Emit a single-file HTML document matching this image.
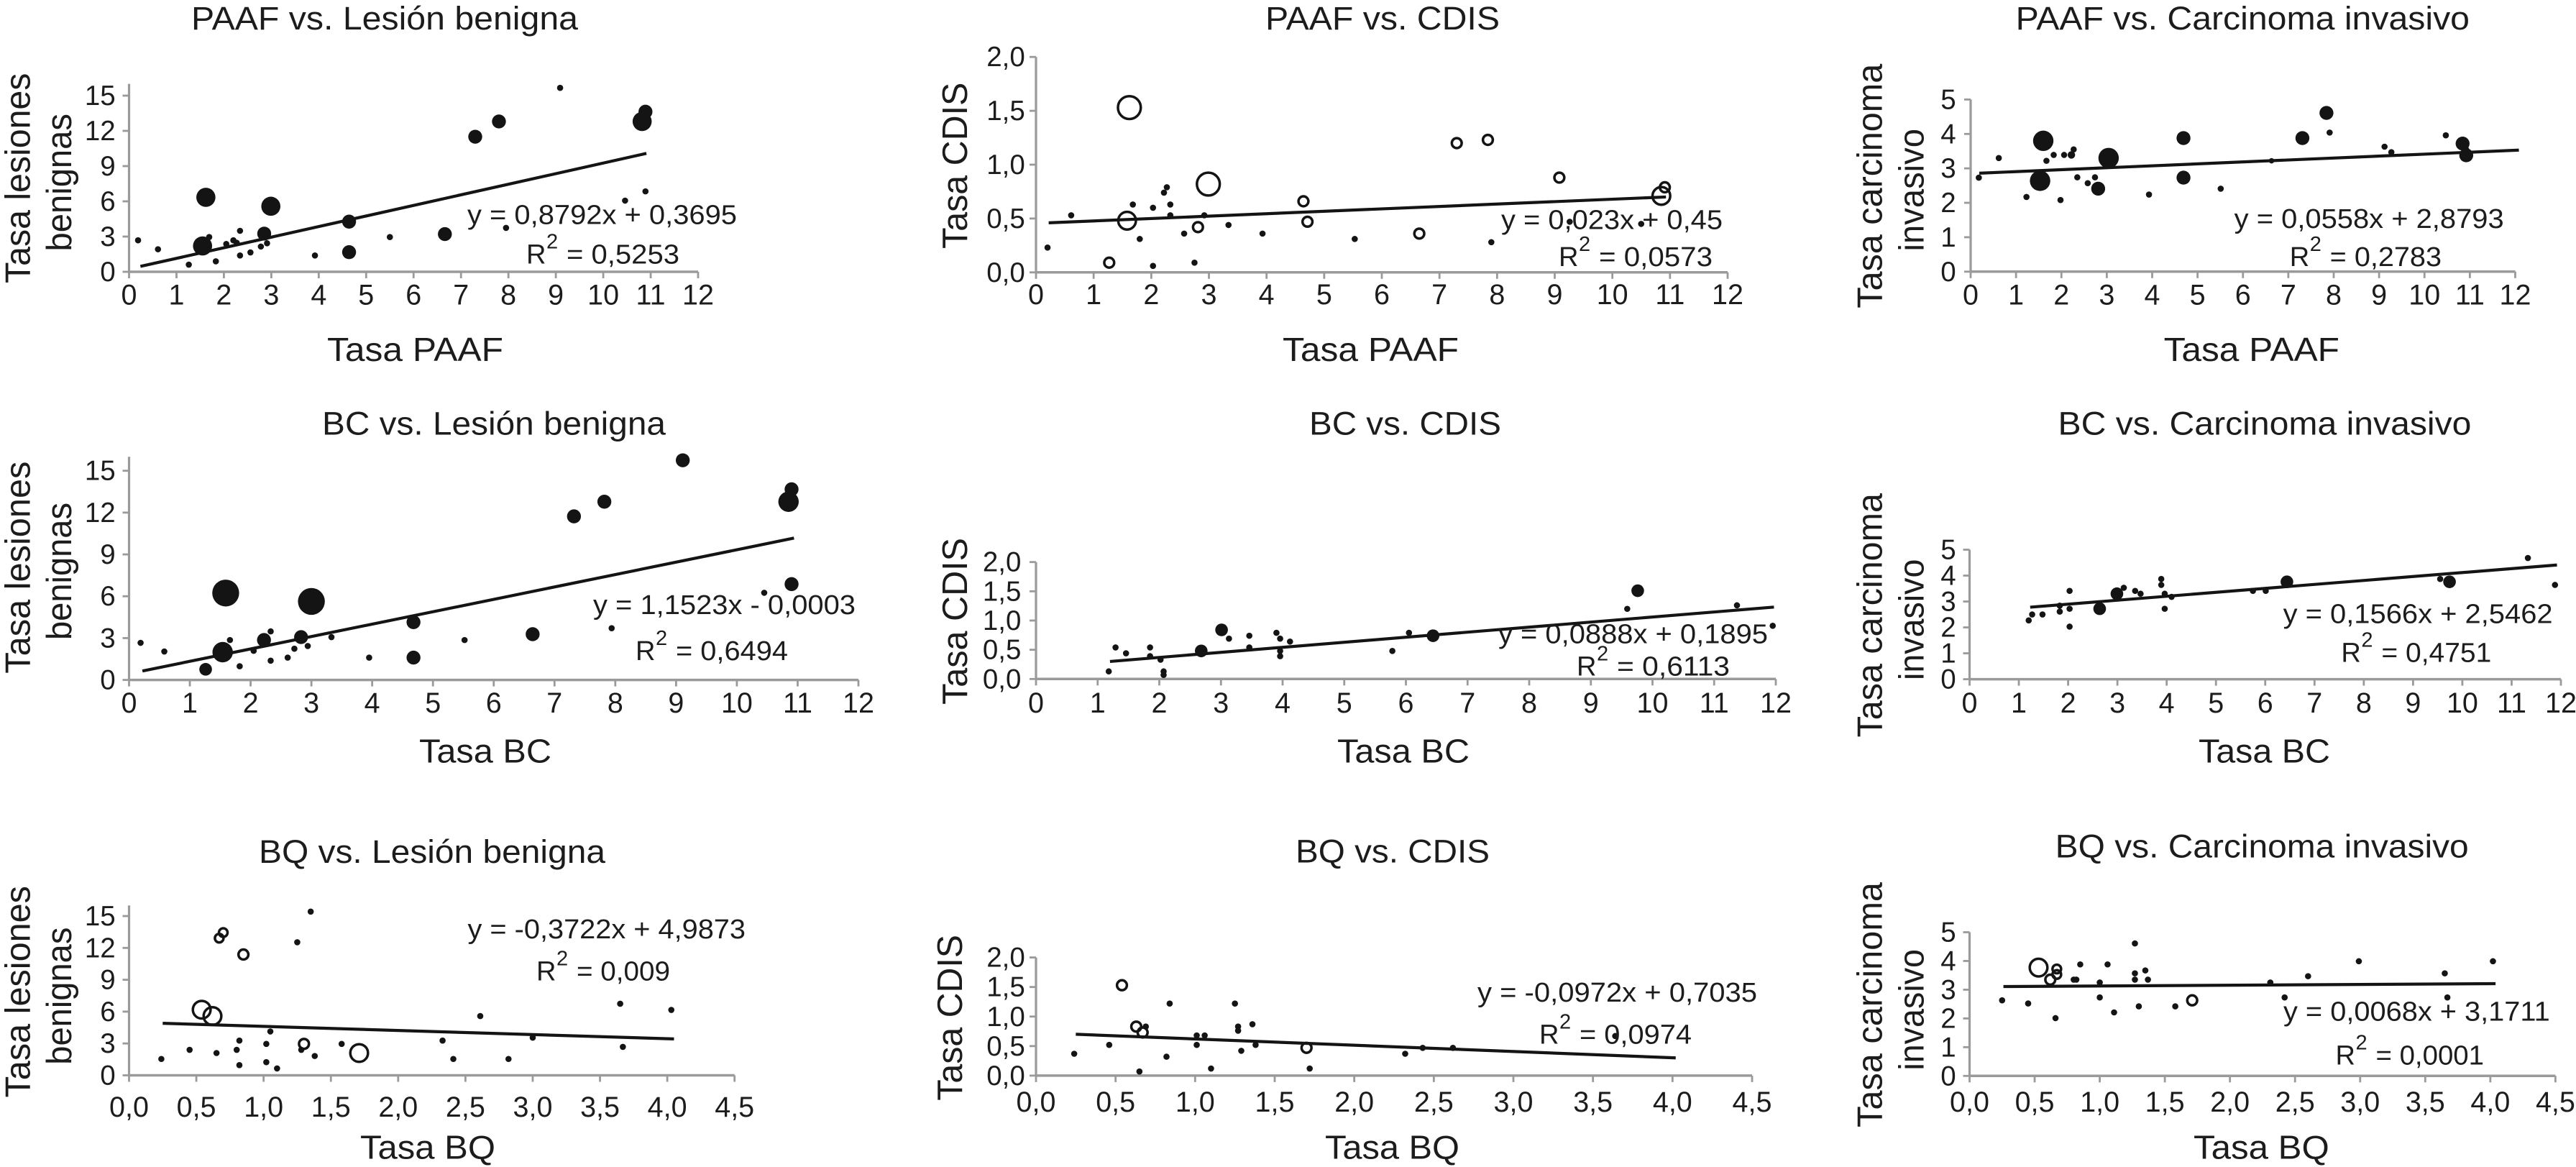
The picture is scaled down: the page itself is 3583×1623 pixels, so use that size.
<!DOCTYPE html>
<html lang="es">
<head>
<meta charset="utf-8">
<title>Tasas PAAF, BC y BQ frente a lesión benigna, CDIS y carcinoma invasivo</title>
<style>
html,body{margin:0;padding:0;background:#fff;}
svg{display:block;}
text{font-family:"Liberation Sans",Arial,sans-serif;fill:#1c1c1c;}
</style>
</head>
<body>
<svg id="figure" xmlns="http://www.w3.org/2000/svg" width="3583" height="1623" viewBox="0 0 3583 1623"></svg>
<script>
// ---- tick labels ----
const ticksRate12 = ["0","1","2","3","4","5","6","7","8","9","10","11","12"];
const ticksRateBQ = ["0,0","0,5","1,0","1,5","2,0","2,5","3,0","3,5","4,0","4,5"];
const ticksBenign = ["0","3","6","9","12","15"];
const ticksCdis = ["0,0","0,5","1,0","1,5","2,0"];
const ticksInvasive = ["0","1","2","3","4","5"];

// ---- PAAF vs. Lesion benigna ----
const paafBenignX = [0.19,0.61,1.26,1.55,1.69,1.62,1.83,2.05,2.2,2.27,2.34,2.34,2.56,2.78,2.91,2.85,2.99,3.92,4.64,4.64,5.5,6.66,7.3,7.8,7.95,9.09,10.46,10.89,10.89,10.82];
const paafBenignY = [2.68,1.92,0.61,2.2,2.96,6.34,0.89,2.37,2.68,2.47,3.49,1.39,1.65,2.15,2.43,3.25,5.58,1.39,4.27,1.67,2.96,3.21,11.5,12.8,3.74,15.66,6.06,6.85,13.63,12.8];
const paafBenignW = [1,1,1,6,1,6,1,1,1,1,1,1,1,1,1,4,6,1,4,4,1,4,4,4,1,1,1,1,4,6];
const paafBenignTrendX = [0.24,10.91];
const paafBenignTrendY = [0.46,10.08];

// ---- PAAF vs. CDIS ----
const paafCdisX = [0.2,0.61,1.27,1.62,1.58,1.68,1.8,2.03,2.03,2.22,2.27,2.33,2.33,2.57,2.75,2.81,2.92,2.99,3.34,3.93,4.64,4.71,5.53,6.65,7.3,7.84,7.9,9.08,9.26,10.5,10.91,10.85];
const paafCdisY = [0.23,0.53,0.09,1.53,0.48,0.63,0.31,0.6,0.06,0.74,0.79,0.63,0.53,0.36,0.09,0.42,0.53,0.82,0.44,0.36,0.66,0.47,0.31,0.36,1.2,1.23,0.28,0.88,0.47,0.45,0.79,0.71];
const paafCdisW = [1,1,3,8,6,1,1,1,1,1,1,1,1,1,1,3,1,8,1,1,3,3,1,3,3,3,1,3,1,1,3,6];
const paafCdisTrendX = [0.22,10.93];
const paafCdisTrendY = [0.46,0.7];

// ---- PAAF vs. Carcinoma invasivo ----
const paafInvasiveX = [0.18,0.62,1.23,1.53,1.6,1.67,1.83,1.98,2.06,2.22,2.27,2.35,2.58,2.74,2.81,3.04,3.93,4.69,4.69,5.51,6.63,7.31,7.84,7.91,9.12,9.27,10.47,10.84,10.92,10.92];
const paafInvasiveY = [2.73,3.3,2.17,2.64,3.8,3.22,3.39,2.08,3.39,3.39,3.55,2.74,2.57,2.74,2.41,3.3,2.24,3.88,2.73,2.41,3.22,3.88,4.61,4.04,3.63,3.47,3.96,3.72,3.38,3.54];
const paafInvasiveW = [1,1,1,6.5,6.5,1,1,1,1,1.5,1,1,1,1,4,6.5,1,4,4,1,0.7,4,4,1,1,1,1,4,4,1];
const paafInvasiveTrendX = [0.19,12.08];
const paafInvasiveTrendY = [2.86,3.53];

// ---- BC vs. Lesion benigna ----
const bcBenignX = [0.19,0.58,1.26,1.54,1.59,1.66,1.82,2.05,2.22,2.33,2.33,2.61,2.72,2.83,2.94,3.0,3.33,3.95,4.68,4.68,5.52,6.64,7.32,7.82,7.94,9.11,10.45,10.9,10.9,10.85];
const bcBenignY = [2.66,2.04,0.76,1.99,6.23,2.86,0.98,2.09,2.86,3.48,1.38,1.6,2.24,3.07,2.43,5.63,3.07,1.6,4.14,1.6,2.86,3.28,11.73,12.78,3.71,15.75,6.25,6.87,13.67,12.78];
const bcBenignW = [1,1,3.5,6.5,9,1,1,1,4,1,1,1,1,4,1,9,1,1,4,4,1,4,4,4,1,4,1,4,4,6.5];
const bcBenignTrendX = [0.22,10.94];
const bcBenignTrendY = [0.64,10.17];

// ---- BC vs. CDIS ----
const bcCdisX = [1.18,1.29,1.46,1.85,1.85,2.02,2.07,2.07,2.68,3.01,3.13,3.46,3.46,3.9,3.96,3.96,3.96,4.12,5.78,6.05,6.44,9.59,9.76,11.37,11.95];
const bcCdisY = [0.13,0.54,0.44,0.54,0.39,0.33,0.13,0.07,0.48,0.84,0.69,0.74,0.54,0.79,0.69,0.48,0.39,0.64,0.48,0.79,0.74,1.2,1.51,1.26,0.91];
const bcCdisW = [1,1,1,1,1,1,1,1,3.5,3.5,1,1,1,1,1,1,1,1,1,1,3.5,1,3.5,1,1];
const bcCdisTrendX = [1.2,11.97];
const bcCdisTrendY = [0.3,1.23];

// ---- BC vs. Carcinoma invasivo ----
const bcInvasiveX = [1.2,1.27,1.48,1.83,1.83,2.03,2.03,2.03,2.64,2.99,3.13,3.36,3.47,3.89,3.89,3.96,3.96,4.1,5.75,6.01,6.44,9.55,9.74,11.33,11.88];
const bcInvasiveY = [2.27,2.5,2.5,2.61,2.84,2.72,3.41,2.03,2.72,3.3,3.53,3.41,3.3,3.87,3.64,3.3,2.72,3.18,3.41,3.41,3.76,3.87,3.76,4.68,3.64];
const bcInvasiveW = [1,1,1,1,1,1,1,1,3.5,3.5,1,1,1,1,1,1,1,1,1,1,3.5,1,3.5,1,1];
const bcInvasiveTrendX = [1.23,11.92];
const bcInvasiveTrendY = [2.78,4.41];

// ---- BQ vs. Lesion benigna ----
const bqBenignX = [0.24,0.45,0.65,0.8,0.82,0.82,1.02,1.02,1.05,1.1,1.28,1.3,1.38,1.35,1.25,1.58,1.71,0.54,0.62,0.7,0.67,0.85,2.33,2.41,2.61,2.82,3.0,3.65,3.67,4.03];
const bqBenignY = [1.54,2.4,2.1,2.4,3.27,0.96,2.96,1.24,4.13,0.65,2.4,2.96,1.82,15.42,12.53,2.96,2.1,6.18,5.58,13.44,12.92,11.38,3.27,1.54,5.58,1.54,3.55,6.74,2.68,6.16];
const bqBenignW = [1,1,1,1,1,1,1,1,1,1,1,3,1,1,1,1,6,6,6,2.5,2.5,3,1,1,1,1,1,1,1,1];
const bqBenignTrendX = [0.25,4.05];
const bqBenignTrendY = [4.9,3.43];

// ---- BQ vs. CDIS ----
const bqCdisX = [0.24,0.46,0.54,0.63,0.67,0.69,0.65,0.82,0.84,1.01,1.01,1.06,1.1,1.25,1.27,1.27,1.29,1.36,1.38,1.7,1.72,2.32,2.43,2.62,3.64];
const bqCdisY = [0.37,0.52,1.53,0.83,0.73,0.83,0.07,0.32,1.22,0.68,0.52,0.68,0.12,1.22,0.83,0.76,0.42,0.87,0.52,0.47,0.12,0.37,0.47,0.47,0.67];
const bqCdisW = [1,1,3,3,3,1,1,1,1,1,1,1,1,1,1,1,1,1,1,3,1,1,1,1,1];
const bqCdisTrendX = [0.25,4.02];
const bqCdisTrendY = [0.7,0.3];

// ---- BQ vs. Carcinoma invasivo ----
const bqInvasiveX = [0.25,0.45,0.53,0.62,0.67,0.67,0.66,0.8,0.82,0.85,1.0,1.0,1.06,1.11,1.27,1.27,1.27,1.3,1.35,1.37,1.58,1.71,2.31,2.42,2.6,2.99,3.65,3.67,4.02];
const bqInvasiveY = [2.63,2.52,3.77,3.35,3.72,3.53,2.01,3.35,3.35,3.88,3.25,2.73,3.88,2.21,4.61,3.57,3.35,2.42,3.67,3.35,2.42,2.63,3.25,2.73,3.47,3.99,3.57,2.73,3.99];
const bqInvasiveW = [1,1,6,3,2.5,2.5,1,1,1,1,1,1,1,1,1,1,1,1,1,1,1,3,1,1,1,1,1,1,1];
const bqInvasiveTrendX = [0.26,4.04];
const bqInvasiveTrendY = [3.11,3.21];

// ---- axis functions ----
function numeric(label){ return parseFloat(String(label).replace(',', '.')); }
function scaleX(p, v){ return p.x0 + (p.xAt - p.x0) * v / p.xRef; }
function scaleY(p, v){ return p.y0 + (p.yAt - p.y0) * v / p.yRef; }
function radius(w){ return 2.5 + 1.8 * w; }

// ---- panel layout ----
const panels = [
 {id:'paaf-benigna', title:'PAAF vs. Lesión benigna', t:[266,804,41], xLabel:'Tasa PAAF', xl:[455,700,502],
  yLines:[['Tasa lesiones',41.5,101.6,394],['benignas',99,158,349.5]],
  x0:179.5,xAt:971,xRef:12,y0:378,yAt:133,yRef:15,yTop:16,yTickRight:160.7,xTickBase:423.5,
  xs:paafBenignX,ys:paafBenignY,ws:paafBenignW,tx:paafBenignTrendX,ty:paafBenignTrendY,hollow:false,
  xTicks:ticksRate12,yTicks:ticksBenign,
  eq:'y = 0,8792x + 0,3695',e:[650,1025,311.6],r2:'= 0,5253',r:[732,945,366.7]},
 {id:'paaf-cdis', title:'PAAF vs. CDIS', t:[1760,2086,41], xLabel:'Tasa PAAF', xl:[1784,2029,502],
  yLines:[['Tasa CDIS',1345,114.7,346]],
  x0:1441,xAt:2403,xRef:12,y0:378.8,yAt:79.2,yRef:2,yTop:2,yTickRight:1425.8,xTickBase:423,
  xs:paafCdisX,ys:paafCdisY,ws:paafCdisW,tx:paafCdisTrendX,ty:paafCdisTrendY,hollow:true,
  xTicks:ticksRate12,yTicks:ticksCdis,
  eq:'y = 0,023x + 0,45',e:[2088,2396,318.5],r2:'= 0,0573',r:[2168,2382,370]},
 {id:'paaf-invasivo', title:'PAAF vs. Carcinoma invasivo', t:[2803.7,3435,41], xLabel:'Tasa PAAF', xl:[3009.6,3254,502],
  yLines:[['Tasa carcinoma',2617.3,88.8,428.7],['invasivo',2675.4,179,349.5]],
  x0:2741,xAt:3498.5,xRef:12,y0:377.8,yAt:138.4,yRef:5,yTop:5,yTickRight:2720.7,xTickBase:423.5,
  xs:paafInvasiveX,ys:paafInvasiveY,ws:paafInvasiveW,tx:paafInvasiveTrendX,ty:paafInvasiveTrendY,hollow:false,
  xTicks:ticksRate12,yTicks:ticksInvasive,
  eq:'y = 0,0558x + 2,8793',e:[3107.7,3482.7,316.8],r2:'= 0,2783',r:[3184.7,3396,370]},
 {id:'bc-benigna', title:'BC vs. Lesión benigna', t:[448,926,604.7], xLabel:'Tasa BC', xl:[583,767,1060.7],
  yLines:[['Tasa lesiones',41.5,641.6,936.7],['benignas',99,699,890]],
  x0:179.5,xAt:1194,xRef:12,y0:945.6,yAt:654.7,yRef:15,yTop:16,yTickRight:160.7,xTickBase:991,
  xs:bcBenignX,ys:bcBenignY,ws:bcBenignW,tx:bcBenignTrendX,ty:bcBenignTrendY,hollow:false,
  xTicks:ticksRate12,yTicks:ticksBenign,
  eq:'y = 1,1523x - 0,0003',e:[825,1190,854],r2:'= 0,6494',r:[884,1096,917.8]},
 {id:'bc-cdis', title:'BC vs. CDIS', t:[1821,2088,604.7], xLabel:'Tasa BC', xl:[1860,2044,1060.7],
  yLines:[['Tasa CDIS',1345,748,980]],
  x0:1441,xAt:2470,xRef:12,y0:944.3,yAt:781.7,yRef:2,yTop:2,yTickRight:1420.4,xTickBase:991,
  xs:bcCdisX,ys:bcCdisY,ws:bcCdisW,tx:bcCdisTrendX,ty:bcCdisTrendY,hollow:false,
  xTicks:ticksRate12,yTicks:ticksCdis,
  eq:'y = 0,0888x + 0,1895',e:[2084,2459,894.7],r2:'= 0,6113',r:[2193,2406,939.4]},
 {id:'bc-invasivo', title:'BC vs. Carcinoma invasivo', t:[2862.5,3437.4,604.7], xLabel:'Tasa BC', xl:[3058,3241,1060.7],
  yLines:[['Tasa carcinoma',2617.3,686,1025.5],['invasivo',2675.4,777.6,946]],
  x0:2739.5,xAt:3562,xRef:12,y0:944.6,yAt:764.5,yRef:5,yTop:5,yTickRight:2720.7,xTickBase:991,
  xs:bcInvasiveX,ys:bcInvasiveY,ws:bcInvasiveW,tx:bcInvasiveTrendX,ty:bcInvasiveTrendY,hollow:false,
  xTicks:ticksRate12,yTicks:ticksInvasive,
  eq:'y = 0,1566x + 2,5462',e:[3175.6,3550.6,866.4],r2:'= 0,4751',r:[3256.4,3465.3,920.5]},
 {id:'bq-benigna', title:'BQ vs. Lesión benigna', t:[360,842,1200], xLabel:'Tasa BQ', xl:[501,689,1611.6],
  yLines:[['Tasa lesiones',41.5,1232,1526.5],['benignas',99,1289.6,1480.7]],
  x0:179.5,xAt:1021.7,xRef:4.5,y0:1495.5,yAt:1274,yRef:15,yTop:16,yTickRight:160.7,xTickBase:1553,
  xs:bqBenignX,ys:bqBenignY,ws:bqBenignW,tx:bqBenignTrendX,ty:bqBenignTrendY,hollow:true,
  xTicks:ticksRateBQ,yTicks:ticksBenign,
  eq:'y = -0,3722x + 4,9873',e:[650.5,1037,1305],r2:'= 0,009',r:[746,932,1363.6]},
 {id:'bq-cdis', title:'BQ vs. CDIS', t:[1802,2072,1199.4], xLabel:'Tasa BQ', xl:[1843,2030,1611.6],
  yLines:[['Tasa CDIS',1338,1300,1530.7]],
  x0:1441,xAt:2437,xRef:4.5,y0:1495.9,yAt:1331.6,yRef:2,yTop:2,yTickRight:1425.8,xTickBase:1546,
  xs:bqCdisX,ys:bqCdisY,ws:bqCdisW,tx:bqCdisTrendX,ty:bqCdisTrendY,hollow:true,
  xTicks:ticksRateBQ,yTicks:ticksCdis,
  eq:'y = -0,0972x + 0,7035',e:[2055,2444,1393],r2:'= 0,0974',r:[2141,2353,1451.5]},
 {id:'bq-invasivo', title:'BQ vs. Carcinoma invasivo', t:[2858.7,3433.7,1192.5], xLabel:'Tasa BQ', xl:[3051,3239.8,1611.6],
  yLines:[['Tasa carcinoma',2617.3,1227,1568],['invasivo',2675.4,1320,1488.6]],
  x0:2739.5,xAt:3554.4,xRef:4.5,y0:1496.3,yAt:1296.5,yRef:5,yTop:5,yTickRight:2720.7,xTickBase:1546,
  xs:bqInvasiveX,ys:bqInvasiveY,ws:bqInvasiveW,tx:bqInvasiveTrendX,ty:bqInvasiveTrendY,hollow:true,
  xTicks:ticksRateBQ,yTicks:ticksInvasive,
  eq:'y = 0,0068x + 3,1711',e:[3176,3546.7,1419.3],r2:'= 0,0001',r:[3248.5,3455,1480.3]}
];

const NS = 'http://www.w3.org/2000/svg';
const AXIS = '#9a9a9a';
const INK = '#141414';

function make(parent, tag, props, name){
  const el = document.createElementNS(NS, tag);
  for (const k in props) el.setAttribute(k, props[k]);
  
  
  parent.appendChild(el);
  return el;
}
function fitted(parent, str, x1, x2, base, size, name){
  const el = make(parent, 'text', {x:x1, y:base, 'font-size':size, textLength:x2-x1, lengthAdjust:'spacingAndGlyphs'}, name);
  el.textContent = str;
  return el;
}
function rotated(parent, str, baseX, yTop, yBottom, size, name){
  const el = make(parent, 'text', {x:0, y:0, 'font-size':size, textLength:yBottom-yTop, lengthAdjust:'spacingAndGlyphs',
    transform:'translate(' + baseX + ' ' + yBottom + ') rotate(-90)'}, name);
  el.textContent = str;
  return el;
}

const root = document.getElementById('figure');
panels.forEach(function(p){
  const g = make(root, 'g', {}, 'panel-' + p.id);

  fitted(g, p.title, p.t[0], p.t[1], p.t[2], 45, 'chart-title');
  fitted(g, p.xLabel, p.xl[0], p.xl[1], p.xl[2], 46, 'x-axis-title');
  p.yLines.forEach(function(line){
    rotated(g, line[0], line[1], line[2], line[3], 49, 'y-axis-title');
  });

  // axes
  make(g, 'line', {x1:p.x0, x2:scaleX(p, numeric(p.xTicks[p.xTicks.length-1])), y1:p.y0, y2:p.y0, stroke:AXIS, 'stroke-width':3.5}, 'x-axis');
  make(g, 'line', {x1:p.x0, x2:p.x0, y1:p.y0, y2:scaleY(p, p.yTop), stroke:AXIS, 'stroke-width':3.2}, 'y-axis');

  p.xTicks.forEach(function(lab){
    const x = scaleX(p, numeric(lab));
    make(g, 'line', {x1:x, x2:x, y1:p.y0, y2:p.y0 + 9, stroke:AXIS, 'stroke-width':2.8}, 'x-tick');
    const t = make(g, 'text', {x:x, y:p.xTickBase, 'font-size':39.5, 'text-anchor':'middle'}, 'x-tick-label');
    t.textContent = lab;
  });
  p.yTicks.forEach(function(lab){
    const y = scaleY(p, numeric(lab));
    make(g, 'line', {x1:p.x0 - 9, x2:p.x0, y1:y, y2:y, stroke:AXIS, 'stroke-width':2.8}, 'y-tick');
    const t = make(g, 'text', {x:p.yTickRight, y:y + 13, 'font-size':38.5, 'text-anchor':'end'}, 'y-tick-label');
    t.textContent = lab;
  });

  // points
  p.xs.forEach(function(v, i){
    const open = p.hollow && p.ws[i] >= 2;
    make(g, 'circle', {cx:scaleX(p, v), cy:scaleY(p, p.ys[i]), r:open ? radius(p.ws[i]) - 1 : radius(p.ws[i]),
      fill: open ? 'none' : INK, stroke: open ? INK : 'none', 'stroke-width': open ? 3.5 : 0}, 'data-point');
  });

  // trend line
  make(g, 'line', {x1:scaleX(p, p.tx[0]), y1:scaleY(p, p.ty[0]), x2:scaleX(p, p.tx[1]), y2:scaleY(p, p.ty[1]),
    stroke:INK, 'stroke-width':4.2}, 'trend-line');

  // equation and R squared
  fitted(g, p.eq, p.e[0], p.e[1], p.e[2], 38, 'trend-equation');
  const rx = p.r[0];
  const rb = p.r[2];
  const rLetter = make(g, 'text', {x:rx, y:rb, 'font-size':38}, 'r-squared-letter');
  rLetter.textContent = 'R';
  const rSup = make(g, 'text', {x:rx + 28, y:rb - 21, 'font-size':29}, 'r-squared-exponent');
  rSup.textContent = '2';
  fitted(g, p.r2, rx + 56, p.r[1], rb, 38, 'r-squared-value');
});
</script>
</body>
</html>
